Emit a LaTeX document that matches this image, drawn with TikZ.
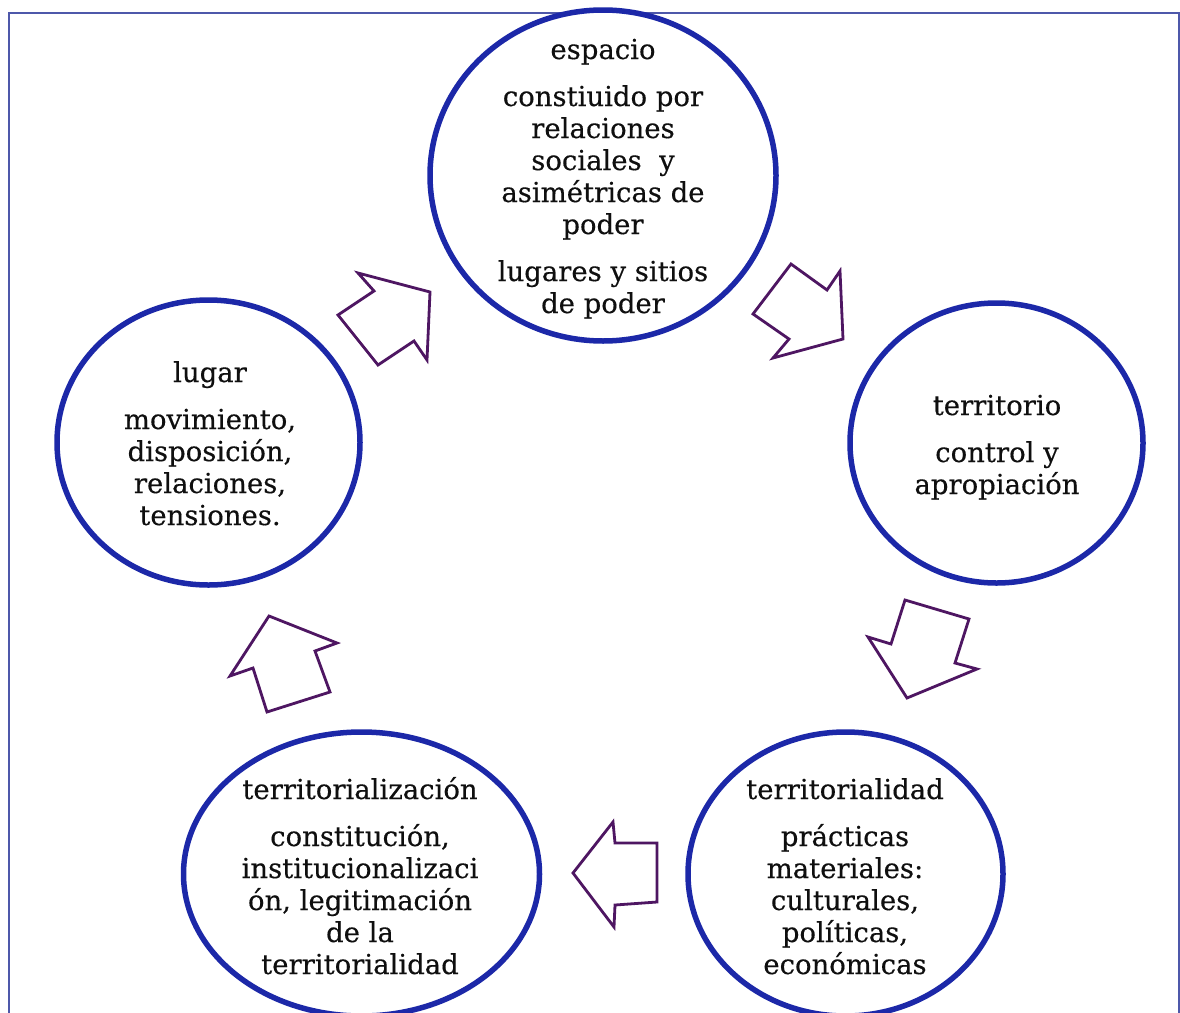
\documentclass[tikz,border=0pt]{standalone}
\usepackage{fontspec}
\setmainfont{DejaVu Serif}
\newfontfamily\ringfont{DejaVu Serif}[FakeBold=0.35]
\usetikzlibrary{shapes.geometric}
\definecolor{framecol}{RGB}{78,88,170}
\definecolor{ringcol}{RGB}{28,40,168}
\definecolor{arrowcol}{RGB}{78,22,98}
\definecolor{inkcol}{RGB}{15,15,15}
\begin{document}
\begin{tikzpicture}[x=1pt,y=-1pt,
  ring/.style={ellipse, draw=ringcol, line width=5.5pt, fill=white, inner sep=0pt},
  ringtext/.style={text=inkcol, font=\ringfont\fontsize{27.5}{32}\selectfont, align=center, anchor=base, inner sep=0pt},
  blockarrow/.style={draw=arrowcol, line width=2.8pt, fill=white, line join=miter}
]
\clip (0,0) rectangle (1180,1012);
\fill[white] (0,0) rectangle (1180,1012);
% outer frame
\draw[framecol, line width=2.8pt] (9,13) rectangle (1179,1040);

% the five rings
\node[ring, minimum width=346pt, minimum height=331pt] (espacio) at (603,175.5) {};
\node[ring, minimum width=303pt, minimum height=285pt] (lugar) at (208.5,442.5) {};
\node[ring, minimum width=293pt, minimum height=280pt] (territorio) at (996.5,443) {};
\node[ring, minimum width=315pt, minimum height=284pt] (territorialidad) at (845.5,874) {};
\node[ring, minimum width=356pt, minimum height=284pt] (territorializacion) at (361.5,874) {};

% ring texts (each node is placed by the baseline of its last line)
\node[ringtext] (t-espacio) at (603,313) {espacio\\[15pt]constiuido por\\relaciones\\sociales\ \ y\\asimétricas de\\poder\\[15pt]lugares y sitios\\de poder};
\node[ringtext] (t-lugar) at (210,525) {lugar\\[15pt]movimiento,\\disposición,\\relaciones,\\tensiones.};
\node[ringtext] (t-territorio) at (997,494) {territorio\\[15pt]control y\\apropiación};
\node[ringtext] (t-territorialidad) at (845,974) {territorialidad\\[15pt]prácticas\\materiales:\\culturales,\\políticas,\\económicas};
\node[ringtext] (t-territorializacion) at (360,974) {territorialización\\[15pt]constitución,\\institucionalizaci\\ón, legitimación\\de la\\territorialidad};

% block arrows between the rings
\draw[blockarrow] (358,273) -- (374,291) -- (338,315) -- (378,365) -- (414,341) -- (427,360) -- (430,292) -- cycle;
\draw[blockarrow] (791,264) -- (827,290) -- (840,271) -- (843,339) -- (773,358) -- (789,339) -- (753,314) -- cycle;
\draw[blockarrow] (905,600) -- (969,619) -- (955,663) -- (977,669) -- (907,698) -- (868,637) -- (891,644) -- cycle;
\draw[blockarrow] (613,822) -- (615,843) -- (657,843) -- (657,902) -- (615,905) -- (614,927) -- (573,873) -- cycle;
\draw[blockarrow] (269,616) -- (337,643) -- (315,651) -- (330,692) -- (267,712) -- (253,668) -- (230,676) -- cycle;
\end{tikzpicture}
\end{document}
